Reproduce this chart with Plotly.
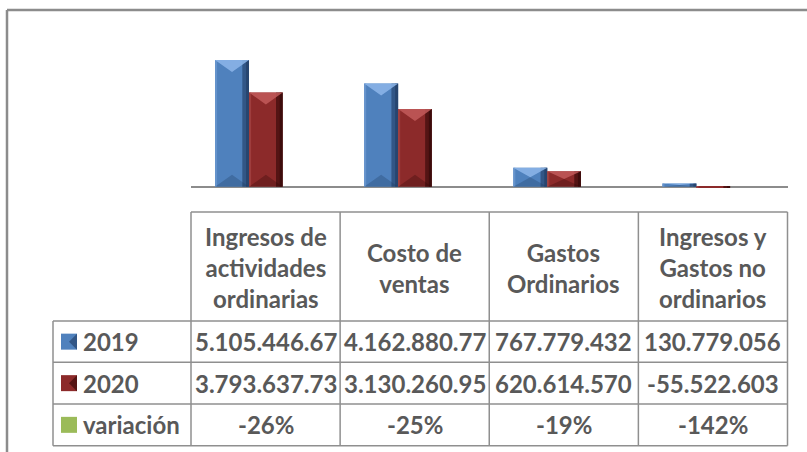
import plotly.graph_objects as go

# ---------------- data ----------------
categories = ["Ingresos de actividades ordinarias", "Costo de ventas",
              "Gastos Ordinarios", "Ingresos y Gastos no ordinarios"]
header_labels = ["Ingresos de<br>actividades<br>ordinarias", "Costo de<br>ventas",
                 "Gastos<br>Ordinarios", "Ingresos y<br>Gastos no<br>ordinarios"]
series_names = ["2019", "2020", "variación"]
values_2019 = [5105446670, 4162880770, 767779432, 130779056]
values_2020 = [3793637730, 3130260950, 620614570, -55522603]
labels_2019 = ["5.105.446.67", "4.162.880.77", "767.779.432", "130.779.056"]
labels_2020 = ["3.793.637.73", "3.130.260.95", "620.614.570", "-55.522.603"]
labels_var = ["-26%", "-25%", "-19%", "-142%"]

# ---------------- styling ----------------
W, H = 807, 452
def px(x): return x / W
def py(y): return 1 - y / H

TXT = "#595959"
GRID = "#8f8f8f"
FONT = "Lato"
FS = 24
BLUE, BLUE_D, BLUE_L, BLUE_T = "#4f81bd", "#1f3b60", "#6a97d0", "#8db6ea"
RED, RED_D, RED_L, RED_T = "#8c2a2a", "#2e0606", "#a34242", "#c25a5a"
GREEN = "#9bbb59"

Y_RANGE = [-0.3344e9, 6.717e9]
PLOT_TOP, PLOT_BOT = 20, 195
units_per_px = (Y_RANGE[1] - Y_RANGE[0]) / (PLOT_BOT - PLOT_TOP)

xpos = list(range(len(categories)))

fig = go.Figure()

def bar_set(vals, name, off, w, base, dark, light, top):
    fig.add_trace(go.Bar(x=xpos, y=vals, name=name, offset=off, width=w,
                         marker=dict(color=base, line=dict(width=0)), showlegend=False))
    fig.add_trace(go.Bar(x=xpos, y=vals, offset=off + w - 0.045, width=0.045,
                         marker=dict(color=dark, line=dict(width=0), opacity=0.6),
                         showlegend=False, hoverinfo="skip"))
    fig.add_trace(go.Bar(x=xpos, y=vals, offset=off + w - 0.02, width=0.02,
                         marker=dict(color=dark, line=dict(width=0), opacity=0.6),
                         showlegend=False, hoverinfo="skip"))
    fig.add_trace(go.Bar(x=xpos, y=vals, offset=off, width=0.014,
                         marker=dict(color=light, line=dict(width=0), opacity=0.8),
                         showlegend=False, hoverinfo="skip"))
    # bevel: light top facet and darker bottom facet
    tx, ty, bx, by = [], [], [], []
    for xc, v in zip(xpos, vals):
        d = min(12 * units_per_px, abs(v) / 2) * (1 if v >= 0 else -1)
        x0, x1, xm = xc + off, xc + off + w, xc + off + w / 2
        tx += [x0, x1, xm, x0, None]
        ty += [v, v, v - d, v, None]
        bx += [x0, x1, xm, x0, None]
        by += [0, 0, d, 0, None]
    fig.add_trace(go.Scatter(x=tx, y=ty, mode="lines", fill="toself", fillcolor=top,
                             line=dict(width=0), opacity=0.85, showlegend=False, hoverinfo="skip"))
    fig.add_trace(go.Scatter(x=bx, y=by, mode="lines", fill="toself", fillcolor=dark,
                             line=dict(width=0), opacity=0.3, showlegend=False, hoverinfo="skip"))

bar_set(values_2019, "2019", -0.339, 0.228, BLUE, BLUE_D, BLUE_L, BLUE_T)
bar_set(values_2020, "2020", -0.111, 0.226, RED, RED_D, RED_L, RED_T)

shapes = []
annotations = []

# outer frame (chart area border, cropped)
shapes.append(dict(type="line", xref="paper", yref="paper", x0=px(7), x1=1.02, y0=py(10), y1=py(10),
                   line=dict(color="#8c8c8c", width=2.5)))
shapes.append(dict(type="line", xref="paper", yref="paper", x0=px(7), x1=px(7), y0=py(10), y1=-0.02,
                   line=dict(color="#8c8c8c", width=2.5)))

# data table geometry
left_x, col0_x, right_x = 53, 191, 787.5
ncol = len(categories)
colw = (right_x - col0_x) / ncol
row_y = [212, 321, 362.3, 404, 445.7]

def hline(x0, x1, y):
    shapes.append(dict(type="line", xref="paper", yref="paper", x0=px(x0), x1=px(x1),
                       y0=py(y), y1=py(y), line=dict(color=GRID, width=1.5)))
def vline(x, y0, y1):
    shapes.append(dict(type="line", xref="paper", yref="paper", x0=px(x), x1=px(x),
                       y0=py(y0), y1=py(y1), line=dict(color=GRID, width=1.5)))

hline(col0_x, right_x, row_y[0])
for y in row_y[1:]:
    hline(left_x, right_x, y)
vline(left_x, row_y[1], row_y[-1])
for i in range(ncol + 1):
    vline(col0_x + i * colw, row_y[0], row_y[-1])

fnt = dict(family=FONT, size=FS, color=TXT, weight="bold")

# header
for xc, lab in zip(xpos, header_labels):
    annotations.append(dict(x=xc, xref="x", y=py((row_y[0] + row_y[1]) / 2 + 1), yref="paper",
                            text=lab, showarrow=False, font=fnt, xanchor="center", yanchor="middle"))

rows = [labels_2019, labels_2020, labels_var]
keys = [BLUE, RED, GREEN]
keyd = [BLUE_D, RED_D, GREEN]
for r, (name, labs, kc, kd) in enumerate(zip(series_names, rows, keys, keyd)):
    yc = (row_y[r + 1] + row_y[r + 2]) / 2
    for xc, t in zip(xpos, labs):
        annotations.append(dict(x=xc, xref="x", y=py(yc), yref="paper", text=t,
                                showarrow=False, font=fnt, xanchor="center", yanchor="middle"))
    annotations.append(dict(x=px(81), xref="paper", y=py(yc), yref="paper", text=name,
                            showarrow=False, font=fnt, xanchor="left", yanchor="middle"))
    shapes.append(dict(type="rect", xref="paper", yref="paper", x0=px(61), x1=px(77),
                       y0=py(yc + 8), y1=py(yc - 8), fillcolor=kc, line=dict(width=0)))
    if kd != kc:
        shapes.append(dict(type="path", xref="paper", yref="paper",
                           path=f"M {px(77)} {py(yc-8)} L {px(69)} {py(yc)} L {px(77)} {py(yc+8)} Z",
                           fillcolor=kd, line=dict(width=0), opacity=0.6))

fig.update_layout(
    width=W, height=H,
    margin=dict(l=0, r=0, t=0, b=0),
    paper_bgcolor="white", plot_bgcolor="white",
    barmode="overlay",
    showlegend=False,
    xaxis=dict(domain=[px(col0_x), px(right_x)], range=[-0.5, 3.5],
               showticklabels=False, showgrid=False, zeroline=False, showline=False, ticks=""),
    yaxis=dict(domain=[py(PLOT_BOT), py(PLOT_TOP)], range=Y_RANGE,
               showticklabels=False, showgrid=False, zeroline=True,
               zerolinecolor="#8c8c8c", zerolinewidth=2, showline=False, ticks=""),
    shapes=shapes,
    annotations=annotations,
)

fig.write_html("out.html", config={"displayModeBar": False},
               post_script="document.body.style.margin='0px';document.body.style.overflow='hidden';")
